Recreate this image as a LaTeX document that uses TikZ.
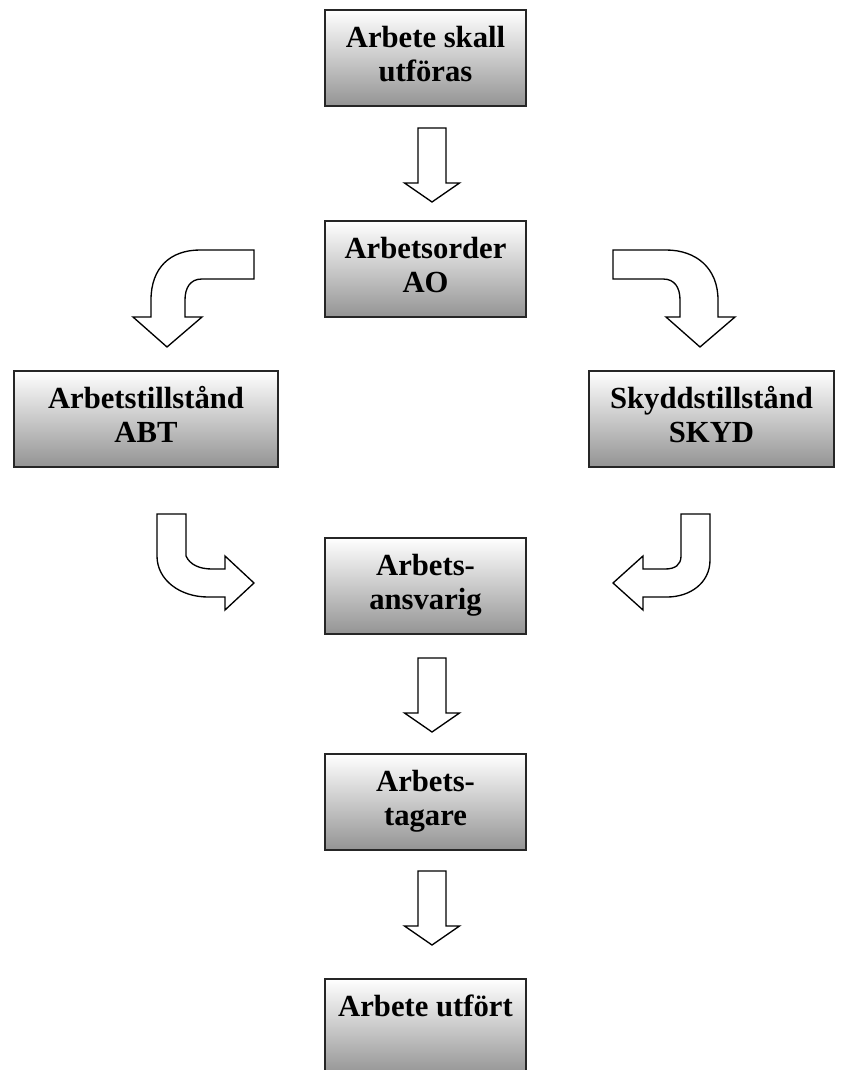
\documentclass[tikz,border=0pt]{standalone}
\usepackage{fontspec}
\setmainfont{Liberation Serif}
\usepackage{tikz}

\begin{document}
\begin{tikzpicture}[
    x=0.75pt, y=-0.75pt,
    font=\fontsize{23}{25.5}\selectfont\bfseries,
    box/.style={draw=black!85, line width=1.5pt, top color=white, bottom color=black!42,
                align=center, inner sep=0pt, minimum width=150.75pt, minimum height=72pt},
    blockarrow/.style={draw, line width=1pt, fill=white, line join=miter},
    downarrow/.pic={
      \draw[blockarrow] (-14,0) -- (14,0) -- (14,55) -- (27.5,55) -- (0,74) -- (-27.5,55) -- (-14,55) -- cycle;
    }
]

% --- RAHMEN ---
\useasboundingbox (0,0) rectangle (845,1070);
\clip (0,0) rectangle (845,1070);

% --- BOXEN ---
\node[box] (start) at (425.5,58) {\strut Arbete skall\\\strut utföras};
\node[box] (ao) at (425.5,269) {\strut Arbetsorder\\\strut AO};
\node[box, minimum width=198pt] (abt) at (146,418.5) {\strut Arbetstillstånd\\\strut ABT};
\node[box, minimum width=183.75pt] (skyd) at (711.5,418.5) {\strut Skyddstillstånd\\\strut SKYD};
\node[box] (ansv) at (425.5,586) {\strut Arbets-\\\strut ansvarig};
\node[box] (tagare) at (425.5,802) {\strut Arbets-\\\strut tagare};
\node[box] (klar) at (425.5,1027) {\strut Arbete utfört\\\strut};

% --- GERADE PFEILE ---
\pic at (432,128) {downarrow};
\pic at (432,658) {downarrow};
\pic at (432,871) {downarrow};

% --- GEBOGENE PFEILE (oben) ---
% AO -> ABT
\draw[blockarrow] (254,250) -- (200,250) .. controls (170,250) and (151,268) .. (151,300)
    -- (151,317) -- (133,317) -- (167,347) -- (202,317) -- (185,317) -- (185,300)
    .. controls (185,288) and (190,279) .. (202,279) -- (254,279) -- cycle;
% AO -> SKYD
\draw[blockarrow] (613,250) -- (666,250) .. controls (696,250) and (718,268) .. (718,300)
    -- (718,317) -- (735,317) -- (700,347) -- (666,317) -- (680,317) -- (680,300)
    .. controls (680,288) and (675,279) .. (663,279) -- (613,279) -- cycle;

% --- GEBOGENE PFEILE (unten) ---
% ABT -> Arbetsansvarig
\draw[blockarrow] (157,514) -- (186,514) -- (186,556) .. controls (190,565) and (200,569) .. (212,569)
    -- (225,569) -- (225,556) -- (254,583) -- (225,610) -- (225,597) -- (208,597)
    .. controls (180,597) and (157,580) .. (157,556) -- cycle;
% SKYD -> Arbetsansvarig
\draw[blockarrow] (681,514) -- (710,514) -- (710,560) .. controls (710,583) and (690,597) .. (667,597)
    -- (643,597) -- (643,610) -- (613,583) -- (643,556) -- (643,569) -- (665,569)
    .. controls (675,569) and (681,565) .. (681,556) -- cycle;

\end{tikzpicture}
\end{document}
